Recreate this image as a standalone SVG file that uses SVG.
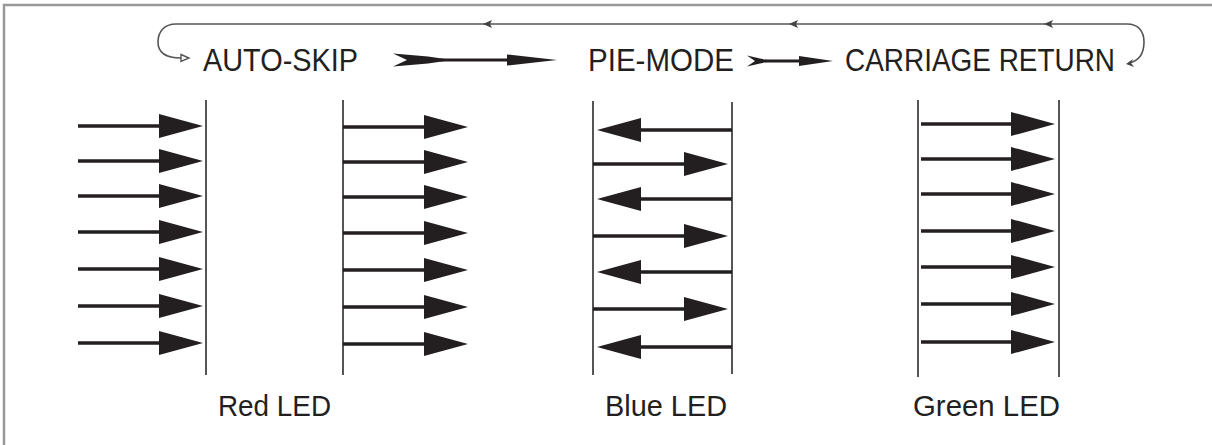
<svg xmlns="http://www.w3.org/2000/svg" width="1212" height="445" viewBox="0 0 1212 445">
<style>
.txt{font-family:"Liberation Sans",Arial,sans-serif;font-size:31px;fill:#231f20}
.lbl{font-family:"Liberation Sans",Arial,sans-serif;font-size:30px;fill:#231f20}
.a{stroke:#231f20;stroke-width:3.5;fill:none}
.v{stroke:#555;stroke-width:2;fill:none}
.loop{stroke:#555;stroke-width:1.6;fill:none}
.frame{stroke:#999;stroke-width:2.5;fill:none}
</style>
<defs>
<marker id="ah" markerUnits="userSpaceOnUse" markerWidth="44" markerHeight="24" refX="14" refY="12" orient="auto">
<path d="M0,0 L44,12 L0,24 Z" fill="#231f20"/>
</marker>
</defs>
<rect width="1212" height="445" fill="#fff"/>
<path class="frame" d="M4,445 L4,5 L1212,5"/>

<g id="connectors">
<path class="loop" d="M1110,24 L176,24 C164,24 158,32 158,42 C158,53 167,58 181,58"/>
<path d="M181,54.5 L189,58 L181,61.5 Z" fill="#fff" stroke="#555" stroke-width="1.4"/>
<path class="loop" d="M1110,24 L1127,24 C1139,24 1144,32 1144,42 C1144,54 1138,61 1129,63"/>
<path d="M1126,64 L1133,59 L1131,63 L1134,67 Z" fill="#444"/>
<path d="M483,24 L492,20 L490,24 L492,28 Z" fill="#444"/>
<path d="M789,24 L798,20 L796,24 L798,28 Z" fill="#444"/>
<path d="M1044,24 L1053,20 L1051,24 L1053,28 Z" fill="#444"/>
<path d="M393,53.5 L428,56.5 L452,60 L428,63.5 L393,66.5 L407,60 Z" fill="#231f20"/>
<line x1="440" y1="60" x2="512" y2="60" stroke="#231f20" stroke-width="3"/>
<path d="M507,54.5 L557,60 L507,65.5 Z" fill="#231f20"/>
<path d="M747,55.5 L760,58.5 L772,61 L760,63.5 L747,66.5 L755,61 Z" fill="#231f20"/>
<line x1="765" y1="61" x2="802" y2="61" stroke="#231f20" stroke-width="3"/>
<path d="M799,56 L833,61 L799,66 Z" fill="#231f20"/>
</g>

<g id="auto-skip"><text class="txt" x="203" y="71" textLength="155" lengthAdjust="spacingAndGlyphs">AUTO-SKIP</text></g>
<g id="pie-mode"><text class="txt" x="588" y="71" textLength="146" lengthAdjust="spacingAndGlyphs">PIE-MODE</text></g>
<g id="carriage-return"><text class="txt" x="845" y="71" textLength="270" lengthAdjust="spacingAndGlyphs">CARRIAGE RETURN</text></g>

<g id="red-led">
<line class="v" x1="206" y1="100" x2="206" y2="375"/>
<line class="v" x1="343" y1="100" x2="343" y2="375"/>
<line class="a" x1="78" y1="126" x2="173" y2="126" marker-end="url(#ah)"/>
<line class="a" x1="78" y1="161" x2="173" y2="161" marker-end="url(#ah)"/>
<line class="a" x1="78" y1="196" x2="173" y2="196" marker-end="url(#ah)"/>
<line class="a" x1="78" y1="232" x2="173" y2="232" marker-end="url(#ah)"/>
<line class="a" x1="78" y1="269" x2="173" y2="269" marker-end="url(#ah)"/>
<line class="a" x1="78" y1="306" x2="173" y2="306" marker-end="url(#ah)"/>
<line class="a" x1="78" y1="343" x2="173" y2="343" marker-end="url(#ah)"/>
<line class="a" x1="343" y1="127" x2="438" y2="127" marker-end="url(#ah)"/>
<line class="a" x1="343" y1="162" x2="438" y2="162" marker-end="url(#ah)"/>
<line class="a" x1="343" y1="197" x2="438" y2="197" marker-end="url(#ah)"/>
<line class="a" x1="343" y1="233" x2="438" y2="233" marker-end="url(#ah)"/>
<line class="a" x1="343" y1="270" x2="438" y2="270" marker-end="url(#ah)"/>
<line class="a" x1="343" y1="307" x2="438" y2="307" marker-end="url(#ah)"/>
<line class="a" x1="343" y1="344" x2="438" y2="344" marker-end="url(#ah)"/>
<text class="lbl" x="218" y="416" textLength="113" lengthAdjust="spacingAndGlyphs">Red LED</text>
</g>

<g id="blue-led">
<line class="v" x1="593" y1="101" x2="593" y2="375"/>
<line class="v" x1="732" y1="102" x2="732" y2="374"/>
<line class="a" x1="732" y1="130" x2="627" y2="130" marker-end="url(#ah)"/>
<line class="a" x1="593" y1="164" x2="698" y2="164" marker-end="url(#ah)"/>
<line class="a" x1="732" y1="199" x2="627" y2="199" marker-end="url(#ah)"/>
<line class="a" x1="593" y1="236" x2="698" y2="236" marker-end="url(#ah)"/>
<line class="a" x1="732" y1="272" x2="627" y2="272" marker-end="url(#ah)"/>
<line class="a" x1="593" y1="309" x2="698" y2="309" marker-end="url(#ah)"/>
<line class="a" x1="732" y1="347" x2="627" y2="347" marker-end="url(#ah)"/>
<text class="lbl" x="605" y="416" textLength="122" lengthAdjust="spacingAndGlyphs">Blue LED</text>
</g>

<g id="green-led">
<line class="v" x1="918" y1="100" x2="918" y2="377"/>
<line class="v" x1="1059" y1="100" x2="1059" y2="377"/>
<line class="a" x1="921" y1="124" x2="1025" y2="124" marker-end="url(#ah)"/>
<line class="a" x1="921" y1="159" x2="1025" y2="159" marker-end="url(#ah)"/>
<line class="a" x1="921" y1="194" x2="1025" y2="194" marker-end="url(#ah)"/>
<line class="a" x1="921" y1="231" x2="1025" y2="231" marker-end="url(#ah)"/>
<line class="a" x1="921" y1="267" x2="1025" y2="267" marker-end="url(#ah)"/>
<line class="a" x1="921" y1="304" x2="1025" y2="304" marker-end="url(#ah)"/>
<line class="a" x1="921" y1="342" x2="1025" y2="342" marker-end="url(#ah)"/>
<text class="lbl" x="913" y="416" textLength="147" lengthAdjust="spacingAndGlyphs">Green LED</text>
</g>
</svg>
